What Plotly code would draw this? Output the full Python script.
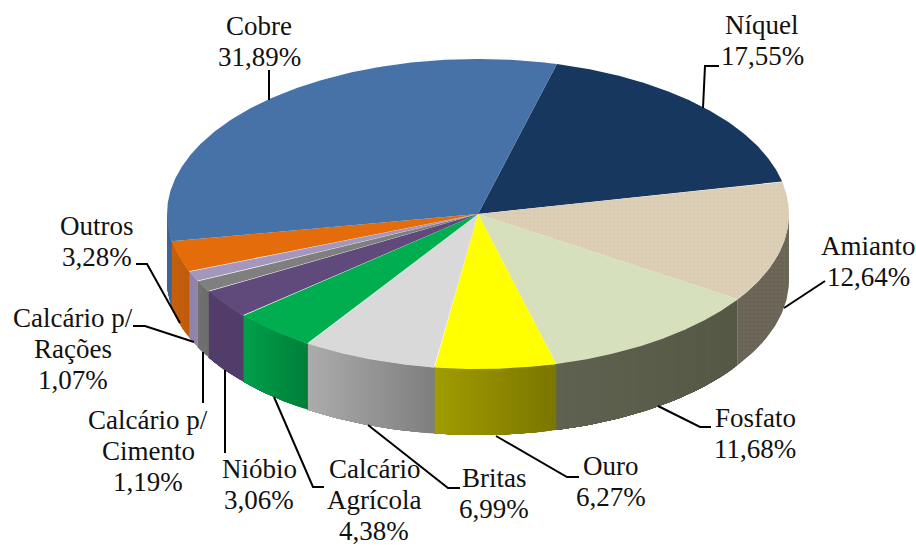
import numpy as np
import plotly.graph_objects as go

# ---- data, in drawing order, clockwise from the Níquel edge
names = ["Níquel", "Amianto", "Fosfato", "Ouro", "Britas", "Calcário Agrícola", "Nióbio",
         "Calcário p/ Cimento", "Calcário p/ Rações", "Outros", "Cobre"]
values = [17.55, 12.64, 11.68, 6.27, 6.99, 4.38, 3.06, 1.19, 1.07, 3.28, 31.89]
top_colors = ["#17375E", "#DDD0B8", "#D6E0BC", "#FFFF00", "#D9D9D9", "#00AE50", "#604A7B",
              "#7F7F7F", "#A596BE", "#E46C0A", "#4672A8"]
side_left = ["#17375E", "#6E685A", "#5F6250", "#A09C00", "#ACACAC", "#00A04C", "#523D6A",
             "#717171", "#9183AA", "#C7600E", "#3E6596"]
side_right = ["#17375E", "#6E685A", "#555845", "#7A7600", "#7E7E7E", "#007E38", "#523D6A",
              "#6C6C6C", "#9183AA", "#BE5C0C", "#3E6596"]
label_lines = [["Níquel", "17,55%"], ["Amianto", "12,64%"], ["Fosfato", "11,68%"], ["Ouro", "6,27%"],
               ["Britas", "6,99%"], ["Calcário", "Agrícola", "4,38%"], ["Nióbio", "3,06%"],
               ["Calcário p/", "Cimento", "1,19%"], ["Calcário p/", "Rações", "1,07%"],
               ["Outros", "3,28%"], ["Cobre", "31,89%"]]

# ---- layout of the drawing (pixels)
W, H = 916, 546
CX, CY, RX, RY, DEPTH = 478, 214, 311, 155, 66
START_DEG = 14.7
label_x = [762, 868, 755, 611, 494, 374, 259, 148, 73, 97, 259]
label_y = [25, 246, 418, 466, 478, 469, 469, 420, 318, 226, 26]
line_pitch = 30.8
leaders = [[(719, 66), (705, 66), (703, 108)],
           [(825, 281), (784, 308)],
           [(711, 427), (700, 427), (658, 406)],
           [(579, 477), (567, 477), (496, 436)],
           [(460, 488), (448, 488), (368, 425)],
           [(324, 487), (313, 487), (274, 397)],
           [(225, 453), (225, 370)],
           [(203, 403), (203, 352)],
           [(133, 326), (145, 326), (194, 342)],
           [(136, 264), (147, 264), (180, 323)],
           [(269, 70), (269, 100)]]


def px(a):
    return CX + RX * np.sin(np.radians(a))


def py(a):
    return CY - RY * np.cos(np.radians(a))


def mix(c1, c2, t):
    a = [int(c1[i:i + 2], 16) for i in (1, 3, 5)]
    b = [int(c2[i:i + 2], 16) for i in (1, 3, 5)]
    return "#%02X%02X%02X" % tuple(round(x + (y - x) * t) for x, y in zip(a, b))


fig = go.Figure()


def poly(xs, ys, color, pattern=None):
    kw = {}
    if pattern:
        kw["fillpattern"] = pattern
    fig.add_trace(go.Scatter(x=xs, y=ys, mode="lines", fill="toself", fillcolor=color,
                             line=dict(color=color, width=0), hoverinfo="skip",
                             showlegend=False, **kw))


edges = START_DEG + np.concatenate([[0], np.cumsum(values)]) * 3.6 * 100 / sum(values)

# sides: only the front half of the rim shows; each strip runs to the slice's end so no seams appear
for i, name in enumerate(names):
    a0, a1 = max(edges[i], 90), min(edges[i + 1], 270)
    if a1 <= a0:
        continue
    textured = name == "Amianto"
    n = 1 if textured else max(2, int((a1 - a0) / 0.8))
    steps = np.linspace(a0, a1, n + 1)
    xl, xr = px(a1), px(a0)
    for k in range(n):
        arc = np.linspace(steps[k], a1, 40)
        xs = np.concatenate([px(arc), px(arc[::-1])])
        ys = np.concatenate([py(arc), py(arc[::-1]) + DEPTH])
        xm = (px(steps[k]) + px(steps[k + 1])) / 2
        t = (xm - xl) / (xr - xl)
        col = mix(side_left[i], side_right[i], t)
        pat = dict(shape="+", size=4, solidity=0.35, fgcolor="#5C574B", bgcolor=col) if textured else None
        poly(xs, ys, col, pat)

# top faces
for i, name in enumerate(names):
    arc = np.linspace(edges[i], edges[i + 1], 200)
    xs = np.concatenate([[CX], px(arc), [CX]])
    ys = np.concatenate([[CY], py(arc), [CY]])
    pat = dict(shape="+", size=4, solidity=0.3, fgcolor="#CFC1A6", bgcolor=top_colors[i]) if name == "Amianto" else None
    poly(xs, ys, top_colors[i], pat)

# leader lines
for pts in leaders:
    fig.add_trace(go.Scatter(x=[p[0] for p in pts], y=[p[1] for p in pts], mode="lines",
                             line=dict(color="#000000", width=2), hoverinfo="skip", showlegend=False))

# labels
annotations = []
for lines, x, y in zip(label_lines, label_x, label_y):
    for j, t in enumerate(lines):
        annotations.append(dict(x=x, y=y + j * line_pitch, text=t, showarrow=False, xanchor="center",
                                yanchor="middle", font=dict(family="Liberation Serif", size=27, color="#111111")))

fig.update_layout(width=W, height=H, margin=dict(l=0, r=0, t=0, b=0), paper_bgcolor="white",
                  plot_bgcolor="white", showlegend=False, annotations=annotations,
                  xaxis=dict(range=[0, W], visible=False, fixedrange=True),
                  yaxis=dict(range=[H, 0], visible=False, fixedrange=True))
fig.write_html("out.html", config={"displayModeBar": False},
               post_script="document.body.style.margin='0';document.body.style.overflow='hidden';")
